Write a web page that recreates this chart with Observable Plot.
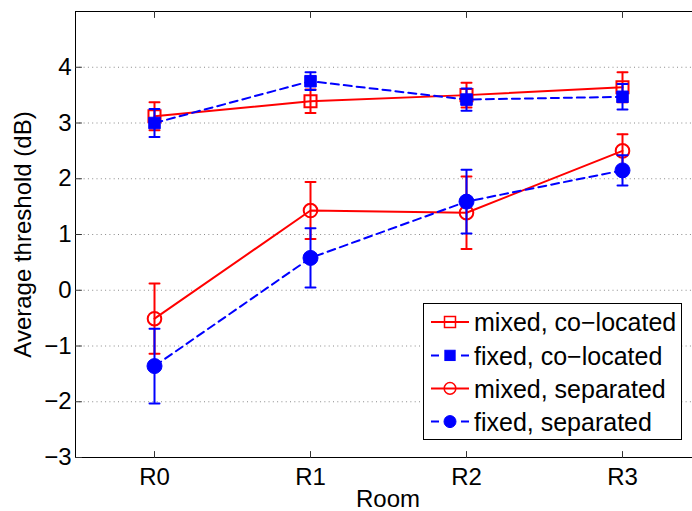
<!DOCTYPE html>
<html><head><meta charset="utf-8">
<script src="https://cdn.jsdelivr.net/npm/d3@7"></script>
<script src="https://cdn.jsdelivr.net/npm/@observablehq/plot@0.6"></script>
<style>
body{margin:0;background:#fff;}
#wrap{position:relative;width:692px;height:511px;overflow:hidden;font-family:"Liberation Sans",Arial,sans-serif;}
#legend{position:absolute;left:0;top:0;}
</style></head><body><div id="wrap"></div>
<script>
const rooms = ["R0", "R1", "R2", "R3"];
const mixedCoMean  = [3.12, 3.39, 3.50, 3.64];
const mixedCoErr   = [0.25, 0.21, 0.22, 0.27];
const fixedCoMean  = [3.00, 3.75, 3.42, 3.47];
const fixedCoErr   = [0.25, 0.16, 0.20, 0.23];
const mixedSepMean = [-0.51, 1.43, 1.39, 2.50];
const mixedSepErr  = [0.63, 0.51, 0.65, 0.30];
const fixedSepMean = [-1.36, 0.58, 1.59, 2.15];
const fixedSepErr  = [0.67, 0.53, 0.57, 0.27];
const yTicks = [-3, -2, -1, 0, 1, 2, 3, 4];
const gridTicks = [-2, -1, 0, 1, 2, 3, 4];
const seriesNames = ["mixed, co−located", "fixed, co−located", "mixed, separated", "fixed, separated"];

const RED = "#ff0000", BLUE = "#0000ff";
const series = [
  {name: seriesNames[0], mean: mixedCoMean, err: mixedCoErr, color: RED, dash: null, symbol: "square", filled: false, r: 6.8, lr: 6.2},
  {name: seriesNames[1], mean: fixedCoMean, err: fixedCoErr, color: BLUE, dash: "8,5", symbol: "square", filled: true, r: 6.5, lr: 5.8},
  {name: seriesNames[2], mean: mixedSepMean, err: mixedSepErr, color: RED, dash: null, symbol: "circle", filled: false, r: 6.8, lr: 5.8},
  {name: seriesNames[3], mean: fixedSepMean, err: fixedSepErr, color: BLUE, dash: "8,5", symbol: "circle", filled: true, r: 7.5, lr: 6}
];

const lineShape = {draw(ctx, l) { ctx.moveTo(0, 0); ctx.lineTo(0, -l); }};

const marks = [];
// dotted grid
marks.push(Plot.ruleY(gridTicks, {stroke: "#8a8a8a", strokeWidth: 1, strokeDasharray: "1,3.3"}));

for (const s of series) {
  const data = rooms.map((room, i) => ({room, y: s.mean[i], lo: s.mean[i] - s.err[i], hi: s.mean[i] + s.err[i]}));
  marks.push(Plot.line(data, {x: "room", y: "y", stroke: s.color, strokeWidth: 2, strokeDasharray: s.dash}));
  marks.push(Plot.ruleX(data, {x: "room", y1: "lo", y2: "hi", stroke: s.color, strokeWidth: 2}));
  for (const key of ["lo", "hi"]) {
    marks.push(Plot.vector(data, {x: "room", y: key, length: 10, rotate: 90, anchor: "middle", shape: lineShape, stroke: s.color, strokeWidth: 2}));
  }
  marks.push(Plot.dot(data, {
    x: "room", y: "y", symbol: s.symbol, r: s.r,
    fill: s.filled ? s.color : "none",
    stroke: s.color, strokeWidth: s.filled ? 1 : 2
  }));
}

// axes frame (left, top, bottom)
marks.push(Plot.ruleY([5, -3], {stroke: "#000", strokeWidth: 1}));
marks.push(Plot.frame({anchor: "left", stroke: "#000", strokeWidth: 1}));
// inward ticks
marks.push(Plot.vector(rooms, {x: d => d, frameAnchor: "bottom", length: 6, rotate: 0, anchor: "start", shape: lineShape, stroke: "#333", strokeWidth: 1}));
marks.push(Plot.vector(rooms, {x: d => d, frameAnchor: "top", length: 6, rotate: 180, anchor: "start", shape: lineShape, stroke: "#333", strokeWidth: 1}));
marks.push(Plot.vector(yTicks, {y: d => d, frameAnchor: "left", length: 6, rotate: 90, anchor: "start", shape: lineShape, stroke: "#333", strokeWidth: 1}));

marks.push(Plot.axisY(yTicks, {tickSize: 0, tickPadding: 4, tickFormat: d3.format("d"), label: "Average threshold (dB)", labelAnchor: "center", labelOffset: 62, labelArrow: "none"}));
marks.push(Plot.axisX({tickSize: 0, tickPadding: 10, label: "Room", labelAnchor: "center", labelOffset: 49, labelArrow: "none"}));

const chart = Plot.plot({
  width: 692,
  height: 511,
  marginLeft: 75,
  marginRight: -8,
  marginTop: 11,
  marginBottom: 54,
  style: {fontFamily: "'Liberation Sans', Arial, sans-serif", fontSize: "24px", background: "white", color: "black", overflow: "visible"},
  x: {type: "point", domain: rooms, range: [75, 700], padding: 0.5},
  y: {domain: [-3, 5]},
  marks
});
const wrap = document.getElementById("wrap");
wrap.appendChild(chart);

// legend
const L = {left: 423, top: 303, w: 259, h: 137, rowY: [19, 52.4, 85.4, 118.6]};
const svg = d3.select(wrap).append("svg")
  .attr("id", "legend").attr("width", 692).attr("height", 511)
  .style("position", "absolute").style("left", "0px").style("top", "0px");
const g = svg.append("g").attr("transform", `translate(${L.left},${L.top})`);
g.append("rect").attr("x", 0.5).attr("y", 0.5).attr("width", L.w - 1).attr("height", L.h - 1)
  .attr("fill", "white").attr("stroke", "black").attr("stroke-width", 1);
series.forEach((s, i) => {
  const cy = L.rowY[i];
  g.append("line").attr("x1", 8).attr("x2", 46).attr("y1", cy).attr("y2", cy)
    .attr("stroke", s.color).attr("stroke-width", 2)
    .attr("stroke-dasharray", s.dash ? "8,22" : null);
  if (s.symbol === "square") {
    const a = s.lr * 0.886 * 2;
    g.append("rect").attr("x", 27 - a / 2).attr("y", cy - a / 2).attr("width", a).attr("height", a)
      .attr("fill", s.filled ? s.color : "none").attr("stroke", s.color).attr("stroke-width", s.filled ? 1 : 1.5);
  } else {
    g.append("circle").attr("cx", 27).attr("cy", cy).attr("r", s.lr)
      .attr("fill", s.filled ? s.color : "none").attr("stroke", s.color).attr("stroke-width", s.filled ? 1 : 1.5);
  }
  g.append("text").attr("x", 51).attr("y", cy + 9.2)
    .attr("font-family", "'Liberation Sans', Arial, sans-serif").attr("font-size", 25)
    .attr("fill", "black").text(s.name);
});
</script></body></html>
